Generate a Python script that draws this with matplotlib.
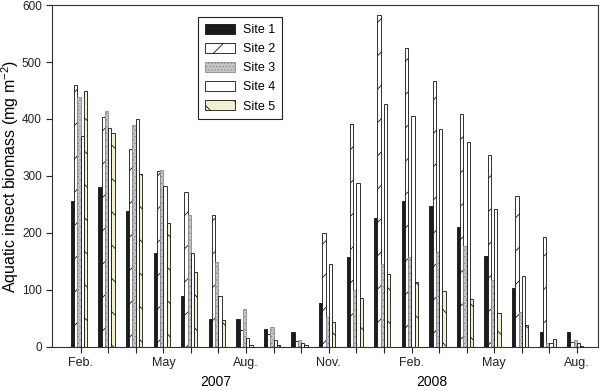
import matplotlib.pyplot as plt
import numpy as np

plt.rcParams['font.family'] = ['Liberation Sans', 'DejaVu Sans']
plt.rcParams['mathtext.fontset'] = 'custom'
plt.rcParams['mathtext.rm'] = 'Liberation Sans'
plt.rcParams['mathtext.default'] = 'regular'
plt.rcParams['hatch.linewidth'] = 0.6

# Feb 2007 .. Aug 2008, one group per month
months = ['Feb.', 'Mar.', 'Apr.', 'May', 'Jun.', 'Jul.', 'Aug.', 'Sep.', 'Oct.', 'Nov.',
          'Dec.', 'Jan.', 'Feb.', 'Mar.', 'Apr.', 'May', 'Jun.', 'Jul.', 'Aug.']
shown = ['Feb.', 'May', 'Aug.', 'Nov.']
years = ['2007', '2008']

site1 = [256, 280, 238, 164, 90, 49, 48, 31, 26, 77, 157, 227, 256, 247, 211, 160, 104, 26, 26]
site2 = [459, 403, 347, 309, 271, 232, 30, 22, 10, 200, 392, 582, 525, 467, 409, 337, 265, 192, 9]
site3 = [438, 414, 389, 311, 232, 149, 66, 34, 12, 53, 100, 146, 158, 167, 177, 118, 61, 6, 12]
site4 = [370, 385, 400, 282, 164, 90, 15, 12, 6, 146, 287, 427, 405, 382, 359, 242, 124, 6, 6]
site5 = [449, 375, 303, 218, 132, 47, 4, 3, 3, 44, 85, 127, 113, 98, 84, 60, 38, 14, 2]

sites = [site1, site2, site3, site4, site5]
names = ['Site 1', 'Site 2', 'Site 3', 'Site 4', 'Site 5']
faces = ['#1c1c1c', 'white', '#c6c6c6', 'white', '#f3f0d2']
edges = ['#111111', '#111111', '#8c8c8c', '#111111', '#111111']
hatches = [None, '/', '.....', None, '\\']

x = np.arange(len(months))
w = 0.118

fig, ax = plt.subplots(figsize=(6, 3.91), dpi=100)
fig.subplots_adjust(left=0.087, right=0.997, top=0.987, bottom=0.113)

for i in range(5):
    ax.bar(x + (i - 2) * w - 0.06, sites[i], width=w, color=faces[i], edgecolor=edges[i],
           hatch=hatches[i], linewidth=0.6, label=names[i])

ax.set_xlim(-1.03, 18.77)
ax.set_ylim(0, 600)
ax.set_yticks(range(0, 601, 100))
ax.set_xticks(x)
ax.set_xticklabels([m if m in shown else '' for m in months])
ax.tick_params(direction='out', length=4, width=0.8, colors='#222222')
ax.tick_params(axis='x', labelsize=9)
ax.tick_params(axis='y', labelsize=8.5)
ax.set_ylabel('Aquatic insect biomass (mg m$^{-2}$)', fontsize=11.5)
ax.yaxis.set_label_coords(-0.057, 0.5)

for s in ax.spines.values():
    s.set_linewidth(0.8)
    s.set_color('#333333')

ax.text(4.9, -0.103, years[0], transform=ax.get_xaxis_transform(), ha='center', va='center', fontsize=10)
ax.text(12.73, -0.103, years[1], transform=ax.get_xaxis_transform(), ha='center', va='center', fontsize=10)

leg = ax.legend(loc='upper left', bbox_to_anchor=(0.267, 0.965), borderaxespad=0, fontsize=9,
                fancybox=False, edgecolor='#222222', framealpha=1, handlelength=2.4,
                handleheight=0.83, labelspacing=0.55, borderpad=0.55, handletextpad=0.67)
leg.get_frame().set_linewidth(0.8)

fig.savefig('out.png', dpi=100)
